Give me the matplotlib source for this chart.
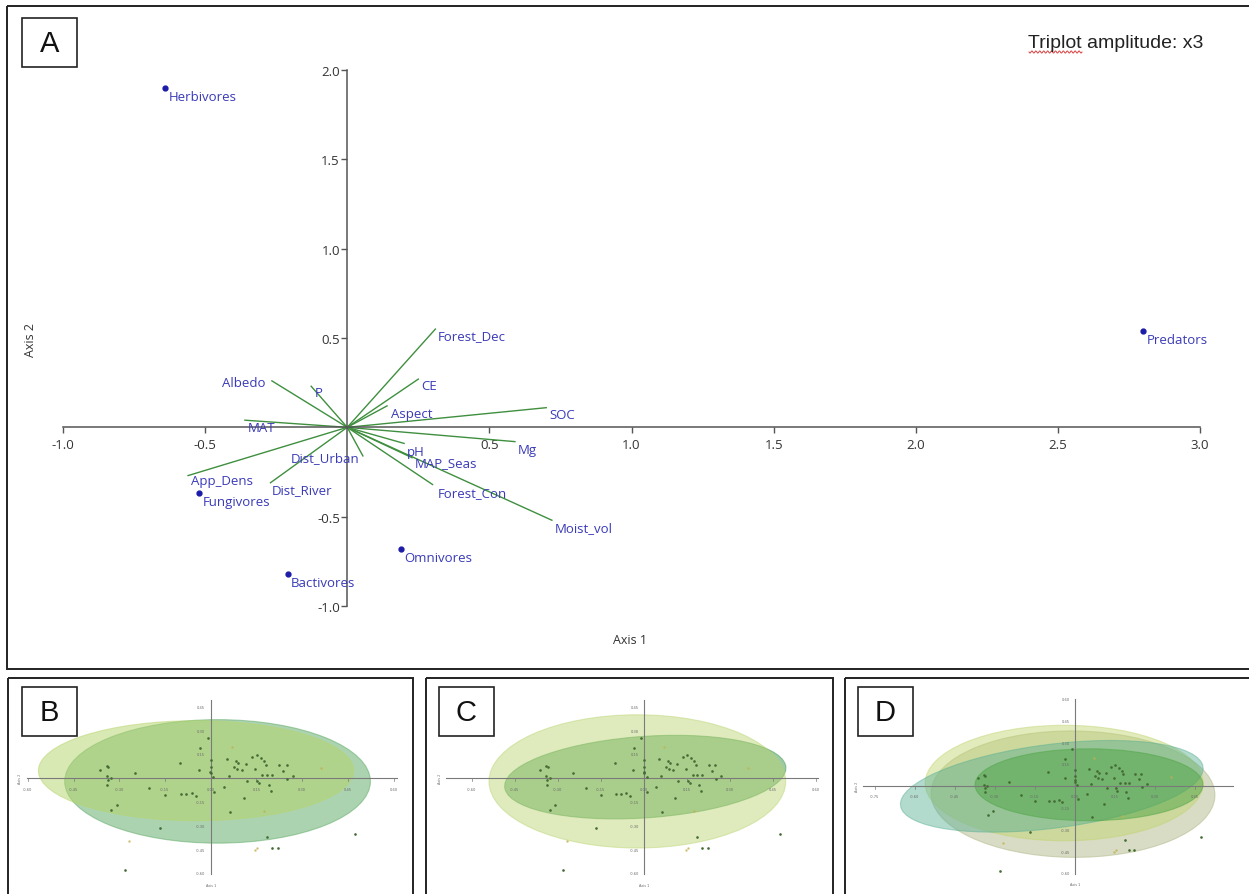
import numpy as np
import matplotlib
matplotlib.use("Agg")
import matplotlib.pyplot as plt
from matplotlib.patches import Ellipse, Rectangle

# ---------------- data: panel A (triplot) ----------------
species = ['Herbivores', 'Predators', 'Fungivores', 'Bactivores', 'Omnivores']
species_x = [-0.64, 2.80, -0.52, -0.21, 0.19]
species_y = [1.90, 0.54, -0.37, -0.82, -0.68]

variables = ['Forest_Dec', 'CE', 'Aspect', 'SOC', 'Mg', 'pH', 'MAP_Seas', 'Forest_Con',
             'Moist_vol', 'Dist_Urban', 'Dist_River', 'App_Dens', 'MAT', 'Albedo', 'P']
var_x = [0.31, 0.25, 0.14, 0.70, 0.59, 0.20, 0.228, 0.30, 0.72, 0.055, -0.27, -0.56, -0.36, -0.265, -0.127]
var_y = [0.55, 0.27, 0.12, 0.11, -0.08, -0.09, -0.17, -0.32, -0.52, -0.16, -0.31, -0.27, 0.04, 0.26, 0.23]
# where each variable name is written (left edge, vertical centre)
var_lx = [0.32, 0.26, 0.155, 0.71, 0.60, 0.21, 0.239, 0.317, 0.73, -0.20, -0.264, -0.55, -0.35, -0.44, -0.116]
var_ly = [0.515, 0.235, 0.08, 0.07, -0.125, -0.135, -0.198, -0.364, -0.56, -0.168, -0.347, -0.30, 0.0, 0.25, 0.196]

x_ticks = [-1.0, -0.5, 0.5, 1.0, 1.5, 2.0, 2.5, 3.0]
y_ticks = [-1.0, -0.5, 0.5, 1.0, 1.5, 2.0]

# ---------------- data: panels B-D (sample scores, tick units) ----------------
sample_u = [-2.43, -2.28, -2.24, -2.28, -2.19, -2.25, -2.26, -2.06, -2.18, -1.66, -1.36, -0.99,
            -0.68, -0.64, -0.53, -0.41, -0.32, -0.24, -0.26, -0.07, 0.00, 0.00, 0.01, -0.01,
            0.07, 0.06, -1.12, -1.88, 0.35, 0.39, 0.29, 0.42, 0.55, 0.60, 0.51, 0.58, 0.68,
            0.77, 0.91, 1.01, 1.09, 1.17, 1.20, 0.97, 1.13, 1.24, 1.35, 0.80, 1.02, 1.06,
            1.28, 1.33, 0.72, 1.50, 1.66, 1.59, 1.68, 1.80, 1.24, 1.34, 1.48, 3.16]
sample_v = [0.36, 0.50, 0.46, 0.08, 0.00, -0.07, -0.28, -1.12, -1.33, 0.22, -0.41, -0.69,
            0.64, -0.66, -0.66, -0.63, -0.73, 1.27, 0.36, 1.69, 0.77, 0.46, 0.22, 0.28,
            -0.59, 0.04, -2.08, -3.87, 0.81, 0.11, -0.35, -1.40, 0.71, 0.63, 0.46, 0.39, 0.35,
            0.60, 0.88, 0.98, 0.84, 0.71, 0.57, 0.39, 0.15, 0.15, 0.15, -0.10, -0.10, -0.20,
            -0.27, -0.52, -0.83, 0.57, 0.57, 0.32, -0.03, 0.11, -2.48, -2.94, -2.94, -2.34]
faint_u = [-1.79, 0.47, 2.41, 1.17, 1.02, 0.97]
faint_v = [-2.62, 1.30, 0.43, -1.36, -2.92, -3.03]

# group ellipses per panel: centre u, centre v, width, height, angle, colour, alpha
ell_B = [(0.15, -0.13, 6.69, 5.19, 0, '#5aa862', 0.5),
         (-0.32, 0.32, 6.90, 4.20, 0, '#b5d46a', 0.5)]
ell_C = [(0.03, 0.05, 6.60, 3.40, 9, '#4f9f5a', 0.55),
         (-0.155, -0.13, 6.90, 5.60, 0, '#b8d46e', 0.45)]
ell_D = [(-0.05, -0.36, 7.10, 5.80, -2, '#a9b27e', 0.45),
         (-0.27, 0.15, 6.95, 5.30, 0, '#bfd46c', 0.45),
         (-0.58, 0.00, 7.80, 3.76, 16, '#55ad92', 0.45),
         (0.35, 0.07, 5.70, 3.30, 0, '#4fa544', 0.5)]

W, H = 1249, 895
fig = plt.figure(figsize=(W / 100, H / 100), dpi=100)

label_font = ['Open Sans', 'DejaVu Sans']
narrow_font = ['Liberation Sans Narrow', 'Liberation Sans', 'DejaVu Sans']
blue_txt = '#3a3ab8'

# ---------------- panel A ----------------
ax = fig.add_axes([63 / W, (H - 607) / H, (1200 - 63) / W, (607 - 71) / H])
ax.set_xlim(-1, 3)
ax.set_ylim(-1, 2)
ax.patch.set_alpha(0)
for s in ['top', 'right']:
    ax.spines[s].set_visible(False)
ax.spines['left'].set_position(('data', 0))
ax.spines['bottom'].set_position(('data', 0))
ax.spines['bottom'].set_bounds(-1, 3)
ax.spines['left'].set_bounds(-1, 2)
for s in ['left', 'bottom']:
    ax.spines[s].set_color('#555555')
    ax.spines[s].set_linewidth(1.1)
ax.set_xticks(x_ticks)
ax.set_yticks(y_ticks)
ax.set_xticklabels([f'{t:.1f}' for t in x_ticks], family=label_font)
ax.set_yticklabels([f'{t:.1f}' for t in y_ticks], family=label_font)
ax.tick_params(direction='out', length=4.3, width=1, color='#555555',
               labelsize=9.5, labelcolor='#333333')
ax.tick_params(axis='y', pad=1)

for vx, vy in zip(var_x, var_y):
    ax.plot([0, vx], [0, vy], color='#3f8f3f', lw=1.0, zorder=2)
for name, lx, ly in zip(variables, var_lx, var_ly):
    ax.text(lx, ly, name, color=blue_txt, fontsize=9.5, family=label_font,
            ha='left', va='center', zorder=3)

ax.plot(species_x, species_y, 'o', color='#1c1ca8', ms=3.5, zorder=4, clip_on=False)
for name, sx_, sy_ in zip(species, species_x, species_y):
    ax.annotate(name, (sx_, sy_), xytext=(2.5, -6), textcoords='offset points',
                color=blue_txt, fontsize=9.5, family=label_font, ha='left', va='center',
                annotation_clip=False)

fig.text(630 / W, 1 - 640 / H, 'Axis 1', fontsize=9, family=label_font,
         color='#333333', ha='center', va='center')
fig.text(30 / W, 1 - 340 / H, 'Axis 2', fontsize=9, family=label_font,
         color='#333333', ha='center', va='center', rotation=90)


# ---------------- panels B, C, D ----------------
def small_panel(box, origin, sx, sy, xb, yb, ells, xt, yt):
    x0, y0, x1, y1 = box
    ox, oy = origin
    a = fig.add_axes([x0 / W, (H - y1) / H, (x1 - x0) / W, (y1 - y0) / H])
    a.set_xlim((x0 - ox) / sx, (x1 - ox) / sx)
    a.set_ylim((oy - y1) / sy, (oy - y0) / sy)
    a.axis('off')
    for cu, cv, ew, eh, ang, col, al in ells:
        a.add_patch(Ellipse((cu, cv), ew, eh, angle=ang, facecolor=col, alpha=al,
                            edgecolor=col, lw=0.8, zorder=1))
    a.plot(xb, [0, 0], color='#7a7a7a', lw=0.8, zorder=2)
    a.plot([0, 0], yb, color='#7a7a7a', lw=0.8, zorder=2)
    for t, lab in zip(range(int(np.ceil(xb[0])), int(np.floor(xb[1])) + 1), xt):
        a.plot([t, t], [0, -0.12], color='#7a7a7a', lw=0.5)
        a.text(t, -0.45, lab, fontsize=2.6, color='#6a6a6a', ha='center', va='center')
    for t, lab in zip(range(int(np.ceil(yb[0])), int(np.floor(yb[1])) + 1), yt):
        if t == 0:
            continue
        a.text(-0.12, t, lab, fontsize=2.6, color='#6a6a6a', ha='right', va='center')
    a.plot(sample_u, sample_v, 'o', color='#456b35', ms=1.9, mew=0, zorder=3)
    a.plot(faint_u, faint_v, 'o', color='#c2b04e', ms=1.7, mew=0, alpha=0.8, zorder=3)
    a.text(0, yb[0] - 0.45, 'Axis 1', fontsize=2.4, color='#6a6a6a', ha='center', va='center')
    a.text(xb[0] - 0.15, 0, 'Axis 2', fontsize=2.4, color='#6a6a6a', ha='center',
           va='center', rotation=90)
    return a


xt8 = ['-0.60', '-0.45', '-0.30', '-0.15', '0.00', '0.15', '0.30', '0.45', '0.60']
yt8 = ['-0.60', '-0.45', '-0.30', '-0.15', '0.00', '0.15', '0.30', '0.45', '0.60']
small_panel((10, 682, 412, 893), (210.7, 779.3), 45.7, 23.8, [-4.02, 4.08], [-4.02, 3.3],
            ell_B, xt8, yt8)
small_panel((428, 682, 831, 893), (644.0, 779.3), 43.0, 23.8, [-4.6, 4.05], [-4.02, 3.3],
            ell_C, xt8, yt8)
xtD = ['-0.75', '-0.60', '-0.45', '-0.30', '-0.15', '0.00', '0.15', '0.30', '0.45']
small_panel((847, 682, 1249, 893), (1075.0, 787.3), 40.0, 21.8, [-5.29, 3.96], [-4.02, 4.0],
            ell_D, xtD, yt8)

# ---------------- frames and panel letters (pixel overlay) ----------------
ov = fig.add_axes([0, 0, 1, 1], zorder=10)
ov.set_xlim(0, W)
ov.set_ylim(H, 0)
ov.axis('off')
ov.patch.set_alpha(0)

frames = [(7, 7, 1250, 663), (8, 679, 405, 230), (426, 679, 407, 230), (845, 679, 410, 230)]
for fx, fy, fw, fh in frames:
    ov.add_patch(Rectangle((fx, fy), fw, fh, fill=False, ec='#222222', lw=1.4))

letters = ['A', 'B', 'C', 'D']
letter_boxes = [(22, 19), (22, 688), (439, 688), (858, 688)]
for let, (lx, ly) in zip(letters, letter_boxes):
    ov.add_patch(Rectangle((lx, ly), 55, 49, fill=True, fc='white', ec='#222222', lw=1.2))
    ov.text(lx + 27.5, ly + 25, let, fontsize=21, family=narrow_font, color='#111111',
            ha='center', va='center')

ov.text(1028, 43, 'Triplot amplitude: x3', fontsize=14, family=narrow_font,
        color='#222222', ha='left', va='center')
wx = np.linspace(1029, 1082, 80)
ov.plot(wx, 53 + 1.1 * np.sin((wx - 1029) * 1.6), color='#d84040', lw=0.7)

fig.savefig('out.png', dpi=100)
